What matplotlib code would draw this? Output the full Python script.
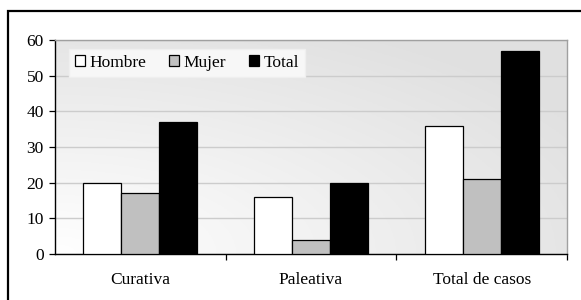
import numpy as np
import matplotlib.pyplot as plt
from matplotlib.patches import Rectangle, Patch

# data
categories = ["Curativa", "Paleativa", "Total de casos"]
hombre = [20, 16, 36]
mujer = [17, 4, 21]
total = [37, 20, 57]

series_names = ["Hombre", "Mujer", "Total"]
series_colors = ["white", "#c0c0c0", "black"]

plt.rcParams['font.family'] = ['Liberation Serif', 'DejaVu Serif']

fig = plt.figure(figsize=(5.81, 3.0), dpi=100)
ax = fig.add_axes([55/581, 46/300, 512/581, 214/300])

# plot area gradient, lightest at the bottom left corner
nx, ny = 200, 100
gx, gy = np.meshgrid(np.linspace(0, 1, nx), np.linspace(0, 1, ny))
dist = np.sqrt(gx**2 + gy**2) / 1.2
shade = 1.0 - 0.12 * np.clip(dist, 0, 1)
img = np.dstack([shade, shade, shade])
ax.imshow(img, extent=[-0.5, 2.5, 0, 60], origin="lower", aspect="auto", zorder=0)

x = np.arange(len(categories))
bw = 1 / 4.5
for i, (vals, col, name) in enumerate(zip([hombre, mujer, total], series_colors, series_names)):
    ax.bar(x + (i - 1) * bw, vals, width=bw, color=col, edgecolor="black",
           linewidth=0.9, zorder=3, label=name)

ax.set_xlim(-0.5, 2.5)
ax.set_ylim(0, 60)
ax.set_yticks(range(0, 61, 10))
ax.yaxis.grid(True, color="#cccccc", linewidth=1.0, zorder=1)
ax.set_axisbelow(True)

ax.set_xticks(x)
ax.set_xticklabels(categories)
ax.set_xticks([0.5, 1.5, 2.5], minor=True)
ax.tick_params(axis="x", which="major", length=0, pad=13, labelsize=12.5)
ax.tick_params(axis="x", which="minor", length=4, width=0.9, direction="out")
ax.tick_params(axis="y", length=4, width=0.9, direction="out", pad=4, labelsize=12.5)

for s in ["top", "right"]:
    ax.spines[s].set_color("#a0a0a0")
    ax.spines[s].set_linewidth(1.0)
for s in ["left", "bottom"]:
    ax.spines[s].set_color("black")
    ax.spines[s].set_linewidth(1.0)

handles = [Patch(facecolor=c, edgecolor="black", linewidth=0.9) for c in series_colors]
leg = ax.legend(handles, series_names, loc="upper left", ncol=3, frameon=True,
                fontsize=12.5, handlelength=0.6, handleheight=0.6, handletextpad=0.25,
                columnspacing=1.3, borderpad=0.35, bbox_to_anchor=(0.01, 1.0),
                fancybox=False)
leg.get_frame().set_facecolor("#f7f7f7")
leg.get_frame().set_edgecolor("#efefef")
leg.get_frame().set_alpha(1.0)

# outer chart frame (cut off at right and bottom in the reference)
fig.patches.append(Rectangle((7.5/581, -0.1), 1.2, 1.1 - 11/300, transform=fig.transFigure,
                             fill=False, edgecolor="black", linewidth=1.6))

fig.savefig("out.png", dpi=100)
